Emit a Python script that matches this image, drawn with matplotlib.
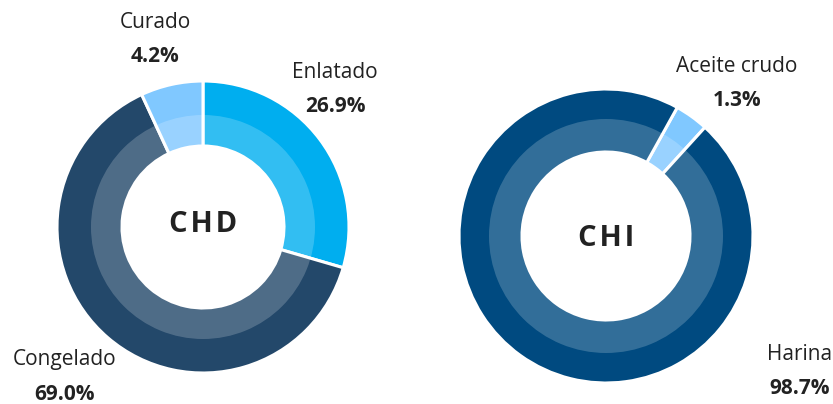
import matplotlib.pyplot as plt
from matplotlib.patches import Wedge

# Datos
chd_labels = ['Enlatado', 'Congelado', 'Curado']
chd_pct = [26.9, 69.0, 4.2]
chd_sizes = [29.5, 63.6, 6.9]   # tamaño de los sectores tal como se ven
chd_colors = ['#00aeef', '#23486a', '#80c8ff']

chi_labels = ['Aceite crudo', 'Harina']
chi_pct = [1.3, 98.7]
chi_sizes = [3.7, 96.3]
chi_colors = ['#80c8ff', '#004a80']

# Layout en pixeles (y hacia abajo, como la imagen)
W, H = 833, 404
chd_center, chd_radii = (203, 227), (146, 112, 81)
chi_center, chi_radii = (606, 236), (147, 117, 84)
chd_label_pos = [(335, 72), (65, 360), (155, 22)]
chi_label_pos = [(737, 67), (800, 355)]

plt.rcParams['font.family'] = ['Open Sans', 'DejaVu Sans']
TXT = '#222222'

fig = plt.figure(figsize=(W / 100, H / 100), dpi=100)
ax = fig.add_axes([0, 0, 1, 1])


def donut(sizes, colors, center, radii, start, name, ty):
    cx, cy = center[0], H - center[1]
    r_out, r_mid, r_in = radii
    ax.pie(sizes, colors=colors, radius=r_out, center=(cx, cy), startangle=start,
           counterclock=False, frame=True,
           wedgeprops=dict(width=r_out - r_in, edgecolor='white', linewidth=2.2))
    # anillo interior mas claro
    ax.add_patch(Wedge((cx, cy), r_mid, 0, 360, width=r_mid - r_in,
                       facecolor='white', alpha=0.2, linewidth=0))
    ax.text(cx, H - ty, name, ha='center', va='center', fontsize=21,
            fontweight='bold', color=TXT)


def labels(names, pct, pos):
    for n, v, (px, py) in zip(names, pct, pos):
        ax.text(px, H - py, n, ha='center', va='center', fontsize=15, color=TXT)
        ax.text(px, H - py - 34, f'{v:.1f}%', ha='center', va='center', fontsize=15,
                fontweight='bold', color=TXT)


donut(chd_sizes, chd_colors, chd_center, chd_radii, 90, 'C\u200aH\u200aD', 224)
donut(chi_sizes, chi_colors, chi_center, chi_radii, 61, 'C\u200aH\u200aI', 238)
labels(chd_labels, chd_pct, chd_label_pos)
labels(chi_labels, chi_pct, chi_label_pos)

ax.set_xlim(0, W)
ax.set_ylim(0, H)
ax.set_aspect('equal')
ax.axis('off')

fig.savefig('out.png', dpi=100)
